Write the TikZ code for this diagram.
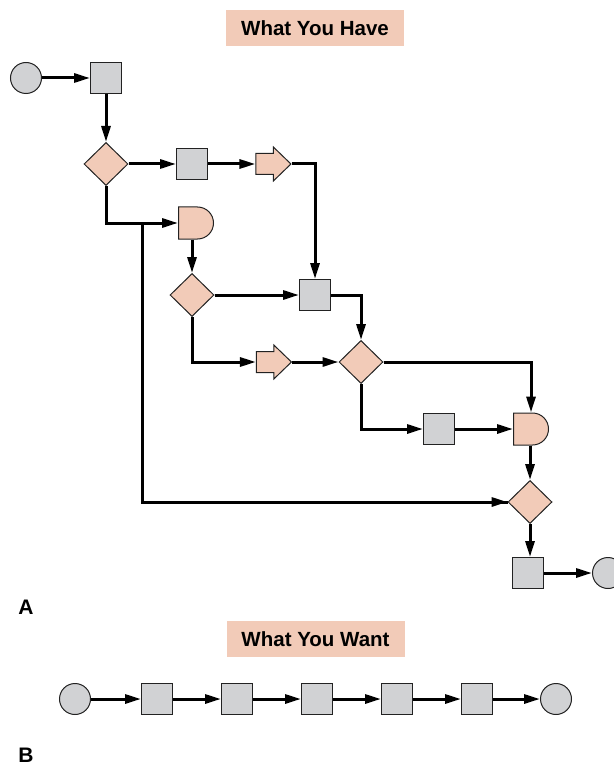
\documentclass[tikz,border=0pt]{standalone}
\usepackage{fontspec}
\setmainfont{Liberation Sans}
\usetikzlibrary{shapes.geometric,shapes.arrows,shapes.misc,arrows.meta}
\definecolor{peach}{HTML}{F2CBB8}
\definecolor{boxgray}{HTML}{D1D2D4}
\definecolor{edge}{HTML}{222222}
\begin{document}
\begin{tikzpicture}[x=1pt,y=-1pt,
 shp/.style={draw=edge,line width=1pt,inner sep=0pt},
 sq/.style={shp,rectangle,fill=boxgray,minimum size=31pt},
 circ/.style={shp,circle,fill=boxgray,minimum size=31pt},
 dia/.style={shp,diamond,fill=peach,minimum width=44pt,minimum height=43pt},
 pent/.style={shp,single arrow,fill=peach,minimum height=35pt,inner xsep=0pt,inner ysep=10pt,single arrow head extend=6.5pt,single arrow tip angle=88},
 gate/.style={shp,rounded rectangle,rounded rectangle west arc=none,fill=peach,minimum width=35pt,minimum height=32pt},
 title/.style={fill=peach,minimum width=178pt,minimum height=36pt,inner sep=0pt,font=\fontsize{20.5}{24}\selectfont\bfseries},
 lbl/.style={font=\fontsize{21}{24}\selectfont\bfseries,inner sep=0pt},
 ln/.style={line width=3pt},
 con/.style={ln,-{Triangle[length=16pt,width=9pt]}}]
\useasboundingbox (0,0) rectangle (613,767);

% Part A
\node[title] (tA) at (315,28) {What You Have};
\node[circ] (start) at (26,78) {};
\node[sq] (s1) at (106,78) {};
\node[dia] (d1) at (106,164) {};
\node[sq] (s2) at (192,164) {};
\node[pent] (a1) at (268,164) {};
\node[gate] (g1) at (196,223) {};
\node[dia] (d2) at (192,295) {};
\node[sq] (s3) at (315,295) {};
\node[pent] (a2) at (268.5,362) {};
\node[dia] (d3) at (361,362) {};
\node[sq] (s4) at (439,429) {};
\node[gate] (g2) at (531,429) {};
\node[dia] (d4) at (530,502) {};
\node[sq] (s5) at (528,573) {};
\node[circ] (end) at (608,573) {};
\coordinate (br) at (142,223);
\node[lbl] (lA) at (26,607) {A};

\draw[con] (start) -- (s1);
\draw[con] (s1) -- (d1);
\draw[con] (d1) -- (s2);
\draw[con] (s2) -- (a1.west);
\draw[con] (a1.east) -| (s3.north);
\draw[con] (d1.south) |- (g1.west);
\draw[ln] (br) |- (d4.west);
\draw[con] (br |- d4.west) -- (d4.west);
\draw[con] (d2 |- g1.south) -- (d2.north);
\draw[con] (d2) -- (s3);
\draw[con] (d2.south) |- (a2.west);
\draw[con] (a2.east) -- (d3.west);
\draw[con] (s3.east) -| (d3.north);
\draw[con] (d3.east) -| (d3.east -| g2.north) -- (g2.north);
\draw[con] (d3.south) |- (s4.west);
\draw[con] (s4) -- (g2.west);
\draw[con] (d4 |- g2.south) -- (d4.north);
\draw[con] (d4.south) -- (d4.south |- s5.north);
\draw[con] (s5) -- (end);

% Part B
\node[title] (tB) at (315.5,639) {What You Want};
\node[circ] (c1) at (75,699) {};
\node[sq] (q1) at (157,699) {};
\node[sq] (q2) at (237,699) {};
\node[sq] (q3) at (317,699) {};
\node[sq] (q4) at (397,699) {};
\node[sq] (q5) at (477,699) {};
\node[circ] (c2) at (556,699) {};
\node[lbl] (lB) at (26,755) {B};
\draw[con] (c1) -- (q1);
\draw[con] (q1) -- (q2);
\draw[con] (q2) -- (q3);
\draw[con] (q3) -- (q4);
\draw[con] (q4) -- (q5);
\draw[con] (q5) -- (c2);
\end{tikzpicture}
\end{document}
